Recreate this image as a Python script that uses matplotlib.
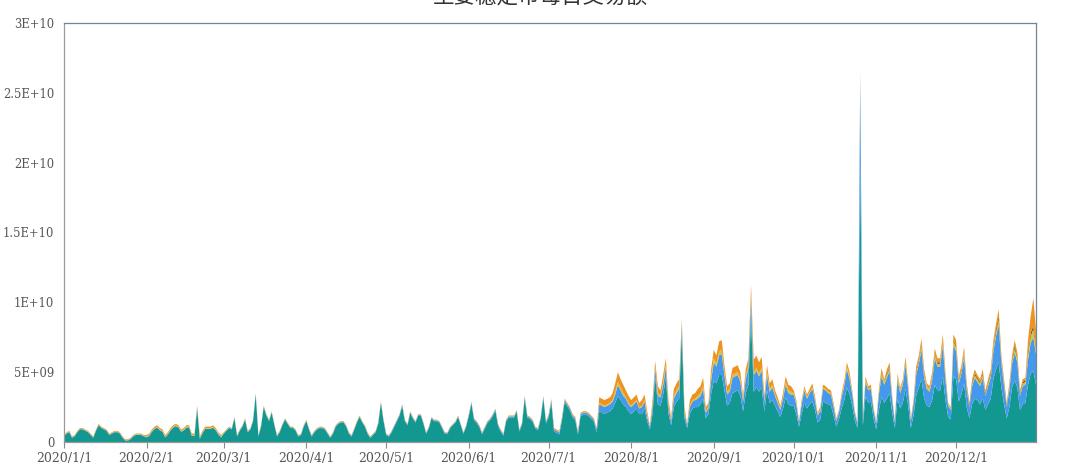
import numpy as np
import pandas as pd
import matplotlib
matplotlib.use('Agg')
import matplotlib.pyplot as plt

title = '主要稳定币每日交易额'
start_date = '2020-01-01'
end_date = '2020-12-31'
series_names = ['USDT', 'USDC', 'TUSD', 'DAI', 'PAX']
unit = 1e8  # values below are in units of 1E8

usdt = [
    # Jan
    4, 6, 7, 3, 4, 7, 9, 9, 8, 7, 5, 3, 8, 12, 10, 9, 8, 5, 6, 7, 7, 6, 3, 1, 1, 2, 4, 5, 5, 5, 4,
    # Feb
    3.3, 4.3, 7.3, 9.3, 10.3, 8.3, 7.3, 3.3, 5.3, 8.3, 10.3, 11.3, 10.3, 7.3, 8.3, 10.3, 10.3, 4.3, 4.3, 24.3,
    2.3, 6.3, 9.3, 9.3, 9.3, 10.3, 8.3, 5.3, 3.3,
    # Mar
    6, 8, 10, 9, 17, 4, 8, 11, 16, 7, 9, 15, 34, 4, 11, 25, 19, 15, 21, 12, 4, 7, 12, 16, 13, 10, 10, 8, 4, 5, 11,
    # Apr
    14.9, 8.9, 3.9, 6.9, 8.9, 9.9, 9.9, 8.9, 5.9, 2.9, 5.9, 10.9, 12.9, 13.9, 13.9, 10.9, 5.9, 3.9, 8.9, 13.9,
    17.9, 13.9, 10.9, 5.9, 2.9, 4.9, 6.9, 12.9, 27.9, 14.9,
    # May
    4.9, 3.9, 6.9, 10.9, 14.9, 18.9, 25.9, 14.9, 11.9, 20.9, 16.9, 13.9, 18.9, 18.9, 12.9, 5.9, 9.9, 16.9, 14.9, 14.9,
    13.9, 9.9, 5.9, 5.9, 9.9, 11.9, 13.9, 17.9, 11.9, 5.9, 10.9,
    # Jun
    18.5, 27.5, 15.5, 13.5, 10.5, 5.5, 9.5, 13.5, 15.5, 18.5, 22.5, 11.5, 7.5, 4.5, 14.5, 17.5, 17.5, 17.5, 21.5, 7.5,
    12.5, 31.5, 17.5, 16.5, 14.5, 9.5, 8.5, 16.5, 31.5, 13.5,
    # Jul
    17.5, 28.5, 7.5, 6.5, 5.5, 15.5, 28.5, 25.5, 22.5, 17.5, 15.5, 5.5, 18.5, 19.5, 19.5, 18.5, 16.5, 14.5,
    7, 22, 21, 20, 21, 22, 24, 28, 33, 30, 27, 25, 22,
    # Aug
    20, 22, 24, 20, 20, 24, 15, 9, 20, 47, 27, 26, 34, 46, 20, 12, 25, 29, 31, 78, 17, 10, 20, 24, 25, 25, 27, 31, 17, 20, 34,
    # Sep
    44, 42, 48, 48, 37, 26, 28, 35, 36, 37, 33, 22, 35, 41, 89, 36, 39, 36, 39, 22, 37, 28, 30, 26, 22, 18, 24, 32, 27, 26,
    # Oct
    26, 20, 11, 20, 28, 24, 27, 29, 23, 14, 16, 29, 28, 27, 26, 19, 11, 16, 24, 30, 39, 34, 26, 15, 10, 200, 12, 33, 28, 29, 17,
    # Nov
    9, 23, 32, 28, 31, 35, 21, 10, 31, 24, 28, 38, 26, 10, 19, 33, 39, 45, 31, 26, 25, 30, 41, 37, 37, 47, 30, 18, 16, 47,
    # Dec
    45, 29, 34, 42, 25, 17, 27, 31, 30, 27, 31, 23, 27, 31, 45, 52, 57, 39, 27, 17, 25, 39, 44, 39, 23, 27, 28, 41, 49, 51, 41,
]

usdc = [
    # Jan
    0.3, 0.3, 0.3, 0.3, 0.3, 0.3, 0.3, 0.3, 0.3, 0.3, 0.3, 0.3, 0.3, 0.3, 0.3, 0.3, 0.3, 0.3, 0.3, 0.3,
    0.3, 0.3, 0.3, 0.3, 0.3, 0.3, 0.3, 0.3, 0.3, 0.3, 0.3,
    # Feb
    0.3, 0.3, 0.3, 0.3, 0.3, 0.3, 0.3, 0.3, 0.3, 0.3, 0.3, 0.3, 0.3, 0.3, 0.3, 0.3, 0.3, 0.3, 0.3, 0.3,
    0.3, 0.3, 0.3, 0.3, 0.3, 0.3, 0.3, 0.3, 0.3,
    # Mar
    0.4, 0.4, 0.4, 0.4, 0.4, 0.4, 0.4, 0.4, 0.4, 0.4, 0.4, 0.4, 0.4, 0.4, 0.4, 0.4, 0.4, 0.4, 0.4, 0.4,
    0.4, 0.4, 0.4, 0.4, 0.4, 0.4, 0.4, 0.4, 0.4, 0.4, 0.4,
    # Apr
    0.5, 0.5, 0.5, 0.5, 0.5, 0.5, 0.5, 0.5, 0.5, 0.5, 0.5, 0.5, 0.5, 0.5, 0.5, 0.5, 0.5, 0.5, 0.5, 0.5,
    0.5, 0.5, 0.5, 0.5, 0.5, 0.5, 0.5, 0.5, 0.5, 0.5,
    # May
    0.6, 0.6, 0.6, 0.6, 0.6, 0.6, 0.6, 0.6, 0.6, 0.6, 0.6, 0.6, 0.6, 0.6, 0.6, 0.6, 0.6, 0.6, 0.6, 0.6,
    0.6, 0.6, 0.6, 0.6, 0.6, 0.6, 0.6, 0.6, 0.6, 0.6, 0.6,
    # Jun
    0.9, 0.9, 0.9, 0.9, 0.9, 0.9, 0.9, 0.9, 0.9, 0.9, 0.9, 0.9, 0.9, 0.9, 0.9, 0.9, 0.9, 0.9, 0.9, 0.9,
    0.9, 0.9, 0.9, 0.9, 0.9, 0.9, 0.9, 0.9, 0.9, 0.9,
    # Jul
    1.5, 1.5, 1.5, 1.5, 1.5, 1.5, 1.5, 1.5, 1.5, 1.5, 1.5, 1.5, 1.5, 1.5, 1.5, 1.5, 1.5, 1.5,
    2, 5, 5, 5, 5, 5, 5, 6, 8, 7, 6, 6, 5,
    # Aug
    5, 5, 5, 4, 5, 5, 3, 2, 5, 6, 6, 6, 7, 7, 5, 3, 6, 6, 7, 6, 4, 2, 5, 5, 5, 6, 6, 7, 4, 4, 10,
    # Sep
    13, 12, 14, 15, 11, 8, 8, 11, 11, 11, 10, 7, 10, 12, 14, 12, 12, 11, 12, 7, 11, 8, 9, 7, 6, 5, 7, 9, 8, 8,
    # Oct
    8, 7, 3, 7, 9, 7, 8, 9, 7, 5, 6, 9, 9, 8, 8, 6, 4, 5, 8, 10, 13, 11, 8, 5, 3, 60, 4, 10, 9, 9, 6,
    # Nov
    4, 11, 15, 13, 15, 16, 9, 4, 14, 11, 13, 17, 12, 5, 8, 15, 17, 21, 15, 12, 11, 14, 19, 17, 17, 22, 14, 8, 7, 22,
    # Dec
    20, 13, 15, 19, 12, 8, 13, 15, 13, 13, 15, 10, 13, 15, 20, 24, 27, 17, 13, 8, 12, 17, 20, 18, 10, 13, 13, 18, 22, 24, 22,
]

tusd = [
    # Jan
    0.2, 0.2, 0.2, 0.2, 0.2, 0.2, 0.2, 0.2, 0.2, 0.2, 0.2, 0.2, 0.2, 0.2, 0.2, 0.2, 0.2, 0.2, 0.2, 0.2,
    0.2, 0.2, 0.2, 0.2, 0.2, 0.2, 0.2, 0.2, 0.2, 0.2, 0.2,
    # Feb
    0.4, 0.4, 0.4, 0.4, 0.4, 0.4, 0.4, 0.4, 0.4, 0.4, 0.4, 0.4, 0.4, 0.4, 0.4, 0.4, 0.4, 0.4, 0.4, 0.4,
    0.4, 0.4, 0.4, 0.4, 0.4, 0.4, 0.4, 0.4, 0.4,
    # Mar
    0.2, 0.2, 0.2, 0.2, 0.2, 0.2, 0.2, 0.2, 0.2, 0.2, 0.2, 0.2, 0.2, 0.2, 0.2, 0.2, 0.2, 0.2, 0.2, 0.2,
    0.2, 0.2, 0.2, 0.2, 0.2, 0.2, 0.2, 0.2, 0.2, 0.2, 0.2,
    # Apr
    0.2, 0.2, 0.2, 0.2, 0.2, 0.2, 0.2, 0.2, 0.2, 0.2, 0.2, 0.2, 0.2, 0.2, 0.2, 0.2, 0.2, 0.2, 0.2, 0.2,
    0.2, 0.2, 0.2, 0.2, 0.2, 0.2, 0.2, 0.2, 0.2, 0.2,
    # May
    0.2, 0.2, 0.2, 0.2, 0.2, 0.2, 0.2, 0.2, 0.2, 0.2, 0.2, 0.2, 0.2, 0.2, 0.2, 0.2, 0.2, 0.2, 0.2, 0.2,
    0.2, 0.2, 0.2, 0.2, 0.2, 0.2, 0.2, 0.2, 0.2, 0.2, 0.2,
    # Jun
    0.2, 0.2, 0.2, 0.2, 0.2, 0.2, 0.2, 0.2, 0.2, 0.2, 0.2, 0.2, 0.2, 0.2, 0.2, 0.2, 0.2, 0.2, 0.2, 0.2,
    0.2, 0.2, 0.2, 0.2, 0.2, 0.2, 0.2, 0.2, 0.2, 0.2,
    # Jul
    0.3, 0.3, 0.3, 0.3, 0.3, 0.3, 0.3, 0.3, 0.3, 0.3, 0.3, 0.3, 0.3, 0.3, 0.3, 0.3, 0.3, 0.3,
    0, 1, 1, 1, 1, 1, 1, 2, 2, 2, 2, 1, 1,
    # Aug
    1, 1, 1, 1, 1, 1, 1, 0, 1, 1, 2, 1, 2, 2, 1, 1, 2, 2, 2, 1, 1, 0, 1, 1, 1, 2, 2, 2, 1, 1, 2,
    # Sep
    3, 2, 3, 3, 2, 2, 2, 2, 2, 2, 2, 1, 2, 2, 3, 2, 2, 2, 2, 1, 2, 2, 2, 1, 1, 1, 1, 2, 2, 2,
    # Oct
    1, 1, 0, 1, 1, 1, 1, 1, 1, 1, 1, 1, 1, 1, 1, 1, 1, 1, 1, 1, 2, 2, 1, 1, 0, 3, 1, 1, 1, 1, 1,
    # Nov
    1, 2, 2, 2, 2, 2, 1, 1, 2, 2, 2, 2, 2, 1, 1, 2, 2, 3, 2, 2, 2, 2, 3, 2, 2, 3, 2, 1, 1, 3,
    # Dec
    3, 2, 2, 3, 2, 1, 2, 2, 2, 2, 2, 1, 2, 2, 3, 3, 4, 2, 2, 1, 2, 2, 3, 3, 1, 2, 2, 4, 5, 6, 5,
]

dai = [
    # Jan
    0, 0, 0, 0, 0, 0, 0, 0, 0, 0, 0, 0, 0, 0, 0, 0, 0, 0, 0, 0, 0, 0, 0, 0, 0, 0, 0, 0, 0, 0, 0,
    # Feb
    0, 0, 0, 0, 0, 0, 0, 0, 0, 0, 0, 0, 0, 0, 0, 0, 0, 0, 0, 0, 0, 0, 0, 0, 0, 0, 0, 0, 0,
    # Mar
    0, 0, 0, 0, 0, 0, 0, 0, 0, 0, 0, 0, 0, 0, 0, 0, 0, 0, 0, 0, 0, 0, 0, 0, 0, 0, 0, 0, 0, 0, 0,
    # Apr
    0, 0, 0, 0, 0, 0, 0, 0, 0, 0, 0, 0, 0, 0, 0, 0, 0, 0, 0, 0, 0, 0, 0, 0, 0, 0, 0, 0, 0, 0,
    # May
    0, 0, 0, 0, 0, 0, 0, 0, 0, 0, 0, 0, 0, 0, 0, 0, 0, 0, 0, 0, 0, 0, 0, 0, 0, 0, 0, 0, 0, 0, 0,
    # Jun
    0, 0, 0, 0, 0, 0, 0, 0, 0, 0, 0, 0, 0, 0, 0, 0, 0, 0, 0, 0, 0, 0, 0, 0, 0, 0, 0, 0, 0, 0,
    # Jul
    0, 0, 0, 0, 0, 0, 0, 0, 0, 0, 0, 0, 0, 0, 0, 0, 0, 0, 0, 0, 0, 0, 0, 0, 0, 0, 0, 0, 0, 0, 0,
    # Aug
    0, 0, 0, 0, 0, 0, 0, 0, 0, 0, 0, 0, 0, 0, 0, 0, 0, 0, 0, 0, 0, 0, 0, 0, 0, 0, 0, 0, 0, 0, 0,
    # Sep
    0, 0, 0, 0, 0, 0, 0, 0, 0, 0, 0, 0, 0, 0, 0, 0, 0, 0, 0, 0, 0, 0, 0, 0, 0, 0, 0, 0, 0, 0,
    # Oct
    0, 0, 0, 0, 0, 0, 0, 0, 0, 0, 0, 0, 0, 0, 0, 0, 0, 0, 0, 0, 0, 0, 0, 0, 0, 0, 0, 0, 0, 0, 0,
    # Nov
    0, 0, 1, 0, 1, 1, 0, 0, 0, 0, 0, 1, 0, 0, 0, 1, 1, 1, 1, 0, 0, 1, 1, 1, 1, 1, 1, 0, 0, 1,
    # Dec
    1, 1, 1, 1, 1, 1, 1, 1, 1, 1, 1, 1, 1, 1, 1, 2, 2, 1, 1, 1, 1, 1, 2, 1, 1, 1, 1, 2, 2, 2, 2,
]

pax = [
    # Jan
    0.5, 0.5, 0.5, 0.5, 0.5, 0.5, 0.5, 0.5, 0.5, 0.5, 0.5, 0.5, 0.5, 0.5, 0.5, 0.5, 0.5, 0.5, 0.5, 0.5,
    0.5, 0.5, 0.5, 0.5, 0.5, 0.5, 0.5, 0.5, 0.5, 0.5, 0.5,
    # Feb
    1.0, 1.0, 1.0, 1.0, 1.0, 1.0, 1.0, 1.0, 1.0, 1.0, 1.0, 1.0, 1.0, 1.0, 1.0, 1.0, 1.0, 1.0, 1.0, 1.0,
    1.0, 1.0, 1.0, 1.0, 1.0, 1.0, 1.0, 1.0, 1.0,
    # Mar
    0.4, 0.4, 0.4, 0.4, 0.4, 0.4, 0.4, 0.4, 0.4, 0.4, 0.4, 0.4, 0.4, 0.4, 0.4, 0.4, 0.4, 0.4, 0.4, 0.4,
    0.4, 0.4, 0.4, 0.4, 0.4, 0.4, 0.4, 0.4, 0.4, 0.4, 0.4,
    # Apr
    0.4, 0.4, 0.4, 0.4, 0.4, 0.4, 0.4, 0.4, 0.4, 0.4, 0.4, 0.4, 0.4, 0.4, 0.4, 0.4, 0.4, 0.4, 0.4, 0.4,
    0.4, 0.4, 0.4, 0.4, 0.4, 0.4, 0.4, 0.4, 0.4, 0.4,
    # May
    0.3, 0.3, 0.3, 0.3, 0.3, 0.3, 0.3, 0.3, 0.3, 0.3, 0.3, 0.3, 0.3, 0.3, 0.3, 0.3, 0.3, 0.3, 0.3, 0.3,
    0.3, 0.3, 0.3, 0.3, 0.3, 0.3, 0.3, 0.3, 0.3, 0.3, 0.3,
    # Jun
    0.4, 0.4, 0.4, 0.4, 0.4, 0.4, 0.4, 0.4, 0.4, 0.4, 0.4, 0.4, 0.4, 0.4, 0.4, 0.4, 0.4, 0.4, 0.4, 0.4,
    0.4, 0.4, 0.4, 0.4, 0.4, 0.4, 0.4, 0.4, 0.4, 0.4,
    # Jul
    0.7, 0.7, 0.7, 0.7, 0.7, 0.7, 0.7, 0.7, 0.7, 0.7, 0.7, 0.7, 0.7, 0.7, 0.7, 0.7, 0.7, 0.7,
    1, 4, 4, 4, 4, 4, 5, 6, 7, 6, 6, 5, 5,
    # Aug
    4, 4, 4, 3, 4, 4, 3, 1, 4, 4, 5, 4, 5, 5, 4, 2, 5, 5, 5, 3, 3, 1, 4, 4, 4, 5, 5, 6, 3, 3, 6,
    # Sep
    6, 6, 7, 7, 5, 4, 4, 5, 5, 5, 5, 3, 5, 5, 6, 9, 9, 8, 8, 3, 5, 4, 4, 3, 3, 2, 3, 4, 4, 4,
    # Oct
    2, 2, 1, 2, 2, 2, 2, 3, 2, 1, 2, 2, 2, 2, 2, 2, 1, 1, 2, 3, 3, 3, 2, 1, 1, 2, 1, 3, 2, 2, 1,
    # Nov
    1, 2, 3, 2, 3, 3, 2, 1, 2, 2, 2, 3, 2, 1, 2, 3, 3, 4, 3, 2, 2, 3, 3, 3, 3, 4, 3, 1, 1, 4,
    # Dec
    4, 2, 3, 3, 2, 1, 2, 3, 2, 2, 3, 2, 2, 3, 4, 4, 5, 3, 2, 1, 2, 3, 4, 3, 2, 2, 2, 8, 12, 20, 10,
]

ytick_values = [0, 5e9, 1e10, 1.5e10, 2e10, 2.5e10, 3e10]
ytick_labels = ['0', '5E+09', '1E+10', '1.5E+10', '2E+10', '2.5E+10', '3E+10']
xtick_dates = ['2020-01-01', '2020-02-01', '2020-03-01', '2020-04-01', '2020-05-01', '2020-06-01',
               '2020-07-01', '2020-08-01', '2020-09-01', '2020-10-01', '2020-11-01', '2020-12-01']
xtick_labels = ['2020/1/1', '2020/2/1', '2020/3/1', '2020/4/1', '2020/5/1', '2020/6/1',
                '2020/7/1', '2020/8/1', '2020/9/1', '2020/10/1', '2020/11/1', '2020/12/1']
colors = ['#139891', '#4599EC', '#D8C13C', '#6B3A14', '#EE931F']

dates = pd.date_range(start_date, end_date, freq='D')
series = [usdt, usdc, tusd, dai, pax]
for name, s in zip(series_names, series):
    assert len(s) == len(dates), (name, len(s), len(dates))
vals = [np.array(s, dtype=float) * unit for s in series]

fig = plt.figure(figsize=(10.8, 4.7), dpi=100)
ax = fig.add_axes([64 / 1080, 28 / 470, 972 / 1080, 419 / 470])
ax.stackplot(dates, *vals, colors=colors, labels=series_names, linewidth=0)

ax.set_xlim(pd.Timestamp(start_date), pd.Timestamp(end_date))
ax.set_ylim(0, 3e10)
ax.set_yticks(ytick_values)
ax.set_yticklabels(ytick_labels)
ax.set_xticks(pd.to_datetime(xtick_dates))
ax.set_xticklabels(xtick_labels)

for lab in ax.get_xticklabels():
    lab.set_fontfamily('DejaVu Serif')
    lab.set_fontsize(9)
    lab.set_color('#555555')
for lab in ax.get_yticklabels():
    lab.set_fontfamily('DejaVu Serif')
    lab.set_fontsize(8.3)
    lab.set_color('#555555')
ax.tick_params(axis='y', length=0, pad=7)
ax.tick_params(axis='x', length=4, width=0.8, color='#8a8a8a', pad=3)

for side in ['left', 'top', 'right', 'bottom']:
    ax.spines[side].set_linewidth(0.9)
ax.spines['left'].set_color('#9a9a9a')
ax.spines['bottom'].set_color('#9a9a9a')
ax.spines['top'].set_color('#6f8796')
ax.spines['right'].set_color('#6f8796')

fig.text(0.5, 1 + 3 / 470, title, ha='center', va='center', fontsize=15.5,
         family=['Noto Sans CJK SC', 'DejaVu Sans'], color='#333333')

fig.savefig('out.png', dpi=100)
